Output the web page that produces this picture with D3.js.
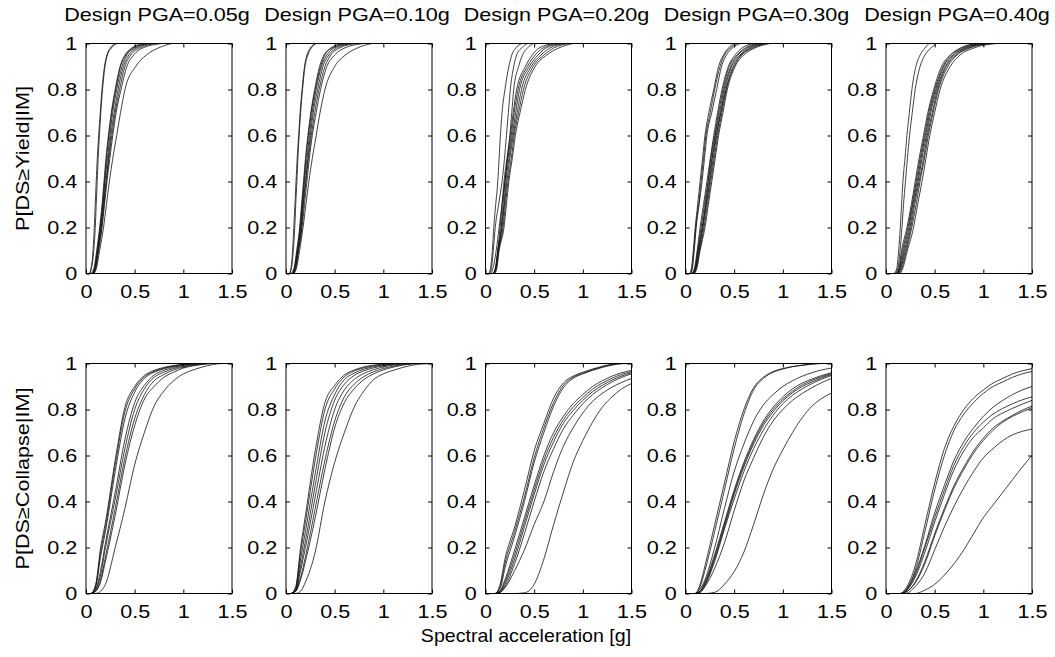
<!DOCTYPE html>
<html><head><meta charset="utf-8">
<script src="https://cdn.jsdelivr.net/npm/d3@7"></script>
<style>
body{margin:0;background:#fff}
text{font-family:"Liberation Sans",Arial,Helvetica,sans-serif;fill:#000}
</style>
</head><body>
<svg id="chart" width="1055" height="657"></svg>
<script>
// ---------------- data ----------------
const designPGA = ["0.05g", "0.10g", "0.20g", "0.30g", "0.40g"];
const rowLabels = ["P[DS\u2265Yield|IM]", "P[DS\u2265Collapse|IM]"];
const xLabel = "Spectral acceleration [g]";
const xTicks = [0, 0.5, 1, 1.5];
const yTicks = [0, 0.2, 0.4, 0.6, 0.8, 1];

// Yield curves: spectral acceleration [g] at which each curve reaches these probability levels
const pLevels = [0, 0.02, 0.1, 0.2, 0.3, 0.4, 0.5, 0.6, 0.7, 0.8, 0.9, 0.95, 0.98, 1];

const yield005 = [
  [0.03, 0.05, 0.072, 0.085, 0.095, 0.105, 0.116, 0.13, 0.147, 0.164, 0.19, 0.215, 0.25, 0.30],
  [0.035, 0.055, 0.08, 0.095, 0.105, 0.115, 0.125, 0.138, 0.152, 0.17, 0.195, 0.22, 0.26, 0.32],
  [0.05, 0.08, 0.11, 0.14, 0.165, 0.185, 0.205, 0.23, 0.26, 0.30, 0.35, 0.40, 0.47, 0.58],
  [0.055, 0.085, 0.115, 0.145, 0.17, 0.19, 0.21, 0.235, 0.265, 0.305, 0.355, 0.41, 0.48, 0.62],
  [0.06, 0.09, 0.12, 0.15, 0.175, 0.195, 0.22, 0.245, 0.275, 0.315, 0.37, 0.42, 0.50, 0.65],
  [0.06, 0.09, 0.12, 0.155, 0.18, 0.205, 0.23, 0.255, 0.29, 0.33, 0.385, 0.44, 0.52, 0.68],
  [0.065, 0.095, 0.125, 0.16, 0.185, 0.21, 0.235, 0.265, 0.30, 0.345, 0.40, 0.46, 0.55, 0.72],
  [0.07, 0.10, 0.13, 0.165, 0.19, 0.215, 0.245, 0.275, 0.31, 0.36, 0.42, 0.49, 0.58, 0.78],
  [0.075, 0.105, 0.14, 0.18, 0.21, 0.24, 0.275, 0.315, 0.355, 0.40, 0.51, 0.62, 0.74, 0.88]
];
const yield010 = [
  [0.03, 0.05, 0.068, 0.08, 0.092, 0.103, 0.115, 0.13, 0.145, 0.165, 0.19, 0.215, 0.25, 0.30],
  [0.035, 0.055, 0.075, 0.09, 0.10, 0.112, 0.122, 0.135, 0.15, 0.17, 0.195, 0.225, 0.26, 0.31],
  [0.05, 0.08, 0.11, 0.14, 0.16, 0.18, 0.20, 0.225, 0.255, 0.295, 0.345, 0.39, 0.46, 0.58],
  [0.055, 0.085, 0.115, 0.145, 0.165, 0.185, 0.205, 0.23, 0.26, 0.30, 0.355, 0.40, 0.47, 0.62],
  [0.06, 0.09, 0.12, 0.15, 0.17, 0.19, 0.215, 0.24, 0.27, 0.31, 0.365, 0.42, 0.49, 0.65],
  [0.06, 0.09, 0.12, 0.155, 0.175, 0.20, 0.225, 0.25, 0.28, 0.325, 0.38, 0.44, 0.52, 0.68],
  [0.065, 0.095, 0.125, 0.16, 0.18, 0.205, 0.23, 0.26, 0.295, 0.34, 0.40, 0.46, 0.55, 0.72],
  [0.07, 0.10, 0.13, 0.165, 0.19, 0.215, 0.24, 0.27, 0.31, 0.355, 0.42, 0.50, 0.60, 0.80],
  [0.075, 0.105, 0.14, 0.175, 0.205, 0.235, 0.27, 0.31, 0.35, 0.40, 0.50, 0.61, 0.73, 0.88]
];
const yield020 = [
  [0.03, 0.05, 0.07, 0.085, 0.105, 0.126, 0.14, 0.153, 0.17, 0.20, 0.24, 0.27, 0.31, 0.375],
  [0.04, 0.06, 0.08, 0.10, 0.135, 0.17, 0.195, 0.215, 0.235, 0.255, 0.29, 0.32, 0.37, 0.43],
  [0.05, 0.075, 0.11, 0.14, 0.17, 0.20, 0.225, 0.25, 0.27, 0.29, 0.34, 0.38, 0.43, 0.49],
  [0.07, 0.10, 0.125, 0.15, 0.17, 0.19, 0.22, 0.255, 0.285, 0.32, 0.41, 0.48, 0.55, 0.70],
  [0.075, 0.10, 0.127, 0.16, 0.18, 0.20, 0.23, 0.265, 0.295, 0.335, 0.43, 0.51, 0.59, 0.74],
  [0.08, 0.105, 0.13, 0.165, 0.19, 0.21, 0.24, 0.275, 0.31, 0.35, 0.45, 0.54, 0.62, 0.78],
  [0.08, 0.105, 0.132, 0.17, 0.195, 0.22, 0.25, 0.285, 0.325, 0.37, 0.47, 0.57, 0.66, 0.82],
  [0.085, 0.11, 0.135, 0.18, 0.205, 0.23, 0.265, 0.295, 0.34, 0.39, 0.49, 0.60, 0.70, 0.86],
  [0.09, 0.115, 0.14, 0.19, 0.215, 0.24, 0.275, 0.307, 0.355, 0.41, 0.51, 0.63, 0.75, 0.90]
];
const yield030 = [
  [0.04, 0.06, 0.08, 0.10, 0.125, 0.15, 0.175, 0.20, 0.24, 0.29, 0.34, 0.39, 0.44, 0.50],
  [0.045, 0.065, 0.085, 0.105, 0.135, 0.16, 0.185, 0.21, 0.255, 0.30, 0.355, 0.40, 0.46, 0.53],
  [0.05, 0.07, 0.09, 0.11, 0.14, 0.17, 0.195, 0.22, 0.27, 0.32, 0.37, 0.42, 0.48, 0.56],
  [0.06, 0.09, 0.12, 0.15, 0.185, 0.22, 0.255, 0.29, 0.33, 0.375, 0.44, 0.51, 0.58, 0.70],
  [0.065, 0.095, 0.125, 0.16, 0.195, 0.23, 0.26, 0.30, 0.34, 0.385, 0.45, 0.53, 0.61, 0.74],
  [0.07, 0.10, 0.13, 0.17, 0.205, 0.235, 0.27, 0.305, 0.35, 0.395, 0.465, 0.54, 0.63, 0.77],
  [0.07, 0.10, 0.135, 0.175, 0.21, 0.245, 0.275, 0.315, 0.36, 0.405, 0.475, 0.56, 0.65, 0.80],
  [0.075, 0.105, 0.14, 0.18, 0.215, 0.25, 0.285, 0.32, 0.365, 0.415, 0.49, 0.57, 0.67, 0.82],
  [0.08, 0.11, 0.145, 0.19, 0.225, 0.26, 0.295, 0.33, 0.375, 0.42, 0.50, 0.58, 0.69, 0.85],
  [0.085, 0.115, 0.15, 0.20, 0.235, 0.27, 0.305, 0.34, 0.385, 0.43, 0.51, 0.60, 0.71, 0.87]
];
const yield040 = [
  [0.08, 0.11, 0.13, 0.147, 0.16, 0.174, 0.195, 0.215, 0.24, 0.266, 0.307, 0.35, 0.40, 0.44],
  [0.09, 0.12, 0.145, 0.164, 0.18, 0.20, 0.22, 0.242, 0.27, 0.30, 0.35, 0.40, 0.46, 0.52],
  [0.10, 0.13, 0.16, 0.215, 0.26, 0.30, 0.34, 0.385, 0.43, 0.49, 0.57, 0.66, 0.76, 0.93],
  [0.105, 0.135, 0.17, 0.225, 0.27, 0.31, 0.35, 0.395, 0.44, 0.50, 0.585, 0.67, 0.78, 0.96],
  [0.11, 0.14, 0.18, 0.235, 0.275, 0.32, 0.36, 0.405, 0.45, 0.51, 0.595, 0.69, 0.80, 0.99],
  [0.115, 0.145, 0.19, 0.245, 0.285, 0.33, 0.37, 0.415, 0.46, 0.52, 0.61, 0.70, 0.82, 1.02],
  [0.12, 0.15, 0.20, 0.255, 0.295, 0.34, 0.385, 0.425, 0.475, 0.53, 0.62, 0.72, 0.84, 1.05],
  [0.13, 0.16, 0.21, 0.265, 0.31, 0.35, 0.395, 0.435, 0.485, 0.54, 0.635, 0.73, 0.86, 1.08],
  [0.14, 0.17, 0.22, 0.283, 0.325, 0.37, 0.41, 0.45, 0.50, 0.556, 0.66, 0.76, 0.90, 1.14]
];

// Collapse curves: probability at each of these spectral accelerations [g]
const saGrid = [0, 0.05, 0.1, 0.15, 0.2, 0.3, 0.4, 0.5, 0.6, 0.7, 0.8, 0.9, 1.0, 1.1, 1.2, 1.3, 1.4, 1.5];

const collapse005 = [
  [0, 0, 0.04, 0.2, 0.31, 0.58, 0.81, 0.9, 0.948, 0.97, 0.983, 0.991, 0.997, 1, 1, 1, 1, 1],
  [0, 0, 0.035, 0.18, 0.29, 0.56, 0.79, 0.89, 0.942, 0.966, 0.98, 0.989, 0.996, 0.999, 1, 1, 1, 1],
  [0, 0, 0.03, 0.16, 0.27, 0.53, 0.76, 0.875, 0.935, 0.962, 0.977, 0.987, 0.994, 0.998, 1, 1, 1, 1],
  [0, 0, 0.02, 0.1, 0.22, 0.44, 0.67, 0.83, 0.905, 0.95, 0.97, 0.983, 0.992, 0.998, 1, 1, 1, 1],
  [0, 0, 0.015, 0.08, 0.2, 0.41, 0.63, 0.8, 0.89, 0.94, 0.962, 0.978, 0.988, 0.995, 1, 1, 1, 1],
  [0, 0, 0.01, 0.06, 0.16, 0.37, 0.59, 0.76, 0.865, 0.925, 0.952, 0.972, 0.984, 0.992, 0.997, 1, 1, 1],
  [0, 0, 0.01, 0.05, 0.14, 0.34, 0.56, 0.73, 0.845, 0.9, 0.94, 0.962, 0.98, 0.99, 0.996, 1, 1, 1],
  [0, 0, 0, 0.01, 0.04, 0.2, 0.37, 0.56, 0.7, 0.815, 0.88, 0.925, 0.955, 0.972, 0.985, 0.995, 1, 1]
];
const collapse010 = [
  [0, 0, 0.03, 0.2, 0.34, 0.62, 0.83, 0.905, 0.95, 0.972, 0.985, 0.993, 0.998, 1, 1, 1, 1, 1],
  [0, 0, 0.025, 0.18, 0.31, 0.58, 0.8, 0.89, 0.942, 0.967, 0.981, 0.99, 0.996, 0.999, 1, 1, 1, 1],
  [0, 0, 0.02, 0.15, 0.27, 0.52, 0.75, 0.865, 0.93, 0.958, 0.975, 0.986, 0.993, 0.998, 1, 1, 1, 1],
  [0, 0, 0.015, 0.12, 0.23, 0.47, 0.7, 0.84, 0.91, 0.948, 0.968, 0.981, 0.99, 0.996, 1, 1, 1, 1],
  [0, 0, 0.01, 0.1, 0.2, 0.42, 0.64, 0.8, 0.885, 0.93, 0.957, 0.973, 0.985, 0.993, 0.998, 1, 1, 1],
  [0, 0, 0.01, 0.07, 0.16, 0.37, 0.58, 0.75, 0.855, 0.91, 0.943, 0.964, 0.978, 0.988, 0.995, 1, 1, 1],
  [0, 0, 0.01, 0.06, 0.14, 0.33, 0.54, 0.72, 0.83, 0.89, 0.93, 0.955, 0.972, 0.984, 0.993, 0.998, 1, 1],
  [0, 0, 0, 0.01, 0.05, 0.18, 0.4, 0.57, 0.7, 0.81, 0.88, 0.93, 0.955, 0.97, 0.983, 0.993, 0.998, 1]
];
const collapse020 = [
  [0, 0, 0, 0.04, 0.15, 0.29, 0.45, 0.62, 0.74, 0.85, 0.915, 0.945, 0.962, 0.976, 0.988, 0.997, 1, 1],
  [0, 0, 0, 0.03, 0.13, 0.27, 0.42, 0.59, 0.72, 0.83, 0.905, 0.94, 0.958, 0.973, 0.985, 0.995, 1, 1],
  [0, 0, 0, 0.02, 0.11, 0.25, 0.4, 0.57, 0.7, 0.815, 0.895, 0.935, 0.955, 0.97, 0.983, 0.993, 0.999, 1],
  [0, 0, 0, 0.01, 0.06, 0.19, 0.33, 0.47, 0.6, 0.7, 0.77, 0.825, 0.865, 0.9, 0.925, 0.945, 0.96, 0.97],
  [0, 0, 0, 0.01, 0.05, 0.17, 0.31, 0.45, 0.58, 0.68, 0.755, 0.81, 0.852, 0.888, 0.915, 0.936, 0.953, 0.965],
  [0, 0, 0, 0.005, 0.04, 0.15, 0.29, 0.43, 0.56, 0.66, 0.74, 0.795, 0.84, 0.877, 0.905, 0.928, 0.946, 0.96],
  [0, 0, 0, 0.005, 0.03, 0.13, 0.26, 0.4, 0.53, 0.63, 0.715, 0.775, 0.825, 0.865, 0.895, 0.92, 0.94, 0.955],
  [0, 0, 0, 0.005, 0.025, 0.1, 0.19, 0.3, 0.4, 0.53, 0.64, 0.72, 0.785, 0.835, 0.87, 0.897, 0.918, 0.935],
  [0, 0, 0, 0, 0, 0, 0.003, 0.04, 0.15, 0.3, 0.44, 0.57, 0.665, 0.745, 0.81, 0.855, 0.89, 0.913]
];
const collapse030 = [
  [0, 0, 0, 0.04, 0.12, 0.3, 0.48, 0.66, 0.8, 0.895, 0.94, 0.965, 0.978, 0.987, 0.993, 0.998, 1, 1],
  [0, 0, 0, 0.03, 0.1, 0.27, 0.45, 0.63, 0.78, 0.885, 0.935, 0.962, 0.976, 0.986, 0.992, 0.997, 1, 1],
  [0, 0, 0, 0.02, 0.06, 0.2, 0.37, 0.53, 0.65, 0.75, 0.82, 0.865, 0.9, 0.925, 0.945, 0.96, 0.972, 0.98],
  [0, 0, 0, 0.01, 0.05, 0.17, 0.31, 0.45, 0.57, 0.67, 0.75, 0.81, 0.855, 0.89, 0.915, 0.933, 0.948, 0.96],
  [0, 0, 0, 0.01, 0.045, 0.16, 0.3, 0.44, 0.56, 0.66, 0.74, 0.8, 0.845, 0.88, 0.907, 0.927, 0.943, 0.956],
  [0, 0, 0, 0.01, 0.04, 0.15, 0.29, 0.43, 0.55, 0.65, 0.73, 0.79, 0.838, 0.873, 0.9, 0.92, 0.938, 0.952],
  [0, 0, 0, 0.005, 0.035, 0.14, 0.28, 0.41, 0.53, 0.63, 0.71, 0.775, 0.825, 0.862, 0.89, 0.913, 0.932, 0.948],
  [0, 0, 0, 0.005, 0.03, 0.11, 0.22, 0.36, 0.49, 0.59, 0.68, 0.75, 0.8, 0.84, 0.87, 0.895, 0.917, 0.935],
  [0, 0, 0, 0, 0, 0.005, 0.04, 0.095, 0.18, 0.3, 0.43, 0.54, 0.625, 0.7, 0.765, 0.815, 0.848, 0.872]
];
const collapse040 = [
  [0, 0, 0, 0, 0.02, 0.12, 0.3, 0.48, 0.63, 0.73, 0.8, 0.85, 0.885, 0.915, 0.935, 0.955, 0.968, 0.978],
  [0, 0, 0, 0, 0.015, 0.1, 0.27, 0.45, 0.6, 0.71, 0.78, 0.83, 0.87, 0.9, 0.92, 0.94, 0.955, 0.965],
  [0, 0, 0, 0, 0.01, 0.09, 0.21, 0.35, 0.47, 0.58, 0.66, 0.72, 0.77, 0.81, 0.84, 0.865, 0.885, 0.9],
  [0, 0, 0, 0, 0.01, 0.08, 0.2, 0.33, 0.45, 0.56, 0.64, 0.7, 0.745, 0.78, 0.805, 0.825, 0.842, 0.855],
  [0, 0, 0, 0, 0.01, 0.07, 0.18, 0.31, 0.43, 0.54, 0.62, 0.68, 0.72, 0.76, 0.785, 0.805, 0.823, 0.84],
  [0, 0, 0, 0, 0.005, 0.05, 0.14, 0.26, 0.37, 0.47, 0.55, 0.62, 0.675, 0.72, 0.75, 0.775, 0.797, 0.815],
  [0, 0, 0, 0, 0.005, 0.045, 0.13, 0.25, 0.36, 0.46, 0.54, 0.61, 0.665, 0.71, 0.745, 0.77, 0.79, 0.808],
  [0, 0, 0, 0, 0, 0.03, 0.09, 0.19, 0.29, 0.38, 0.46, 0.53, 0.59, 0.63, 0.665, 0.69, 0.705, 0.715],
  [0, 0, 0, 0, 0, 0, 0.015, 0.04, 0.08, 0.13, 0.19, 0.26, 0.33, 0.385, 0.44, 0.495, 0.55, 0.6]
];

const yieldPanels = [yield005, yield010, yield020, yield030, yield040];
const collapsePanels = [collapse005, collapse010, collapse020, collapse030, collapse040];

// ---------------- layout ----------------
const panelLefts = [86, 286, 485.5, 685.5, 886];
const rowTops = [43.5, 363.5];
const W = 146, H = 230;
const FS = 18, SX = 1.2;

const svg = d3.select("#chart");
const x = d3.scaleLinear().domain([0, 1.5]).range([0, W]);
const y = d3.scaleLinear().domain([0, 1]).range([H, 0]);
const line = d3.line()
  .x(d => x(d[0])).y(d => y(d[1]))
  .curve(d3.curveMonotoneX);

// table of point lists built from the arrays above
const rows = [
  yieldPanels.map(curves => curves.map(sa =>
    [[x.domain()[0], pLevels[0]]].concat(sa.map((v, i) => [v, pLevels[i]])))),
  collapsePanels.map(curves => curves.map(p => saGrid.map((s, i) => [s, p[i]])))
];

function stretchText(sel, sx) {
  const k = sx || SX;
  sel.attr("font-size", FS).each(function () {
    const t = d3.select(this);
    const prev = t.attr("transform") || "";
    t.attr("transform", prev + " scale(" + k + ",1)");
  });
}

rows.forEach((row, r) => {
  row.forEach((curves, c) => {
    const g = svg.append("g")
      .attr("transform", `translate(${panelLefts[c]},${rowTops[r]})`);
    const clipId = `clip-${r}-${c}`;
    g.append("clipPath").attr("id", clipId)
      .append("rect").attr("width", W).attr("height", H);

    g.append("g").attr("clip-path", `url(#${clipId})`)
      .selectAll("path").data(curves).join("path")
      .attr("fill", "none")
      .attr("stroke", "#111")
      .attr("stroke-width", 0.8)
      .attr("d", line);

    g.append("g").attr("transform", `translate(0,${H})`)
      .call(d3.axisBottom(x).tickValues(xTicks).tickSizeInner(-4).tickSizeOuter(0)
        .tickPadding(12).tickFormat(d => String(d)));
    g.append("g")
      .call(d3.axisLeft(y).tickValues(yTicks).tickSizeInner(-4).tickSizeOuter(0)
        .tickPadding(7.3).tickFormat(d => String(d)));
    g.append("g")
      .call(d3.axisTop(x).tickValues(xTicks).tickSizeInner(-4).tickSizeOuter(0).tickFormat(""));
    g.append("g").attr("transform", `translate(${W},0)`)
      .call(d3.axisRight(y).tickValues(yTicks).tickSizeInner(-4).tickSizeOuter(0).tickFormat(""));
    g.selectAll(".domain").remove();
    g.selectAll(".tick line").attr("stroke", "#000").attr("stroke-width", 1);
    g.selectAll(".tick text").attr("font-family", null).call(stretchText);

    g.append("rect").attr("width", W).attr("height", H)
      .attr("fill", "none").attr("stroke", "#000").attr("stroke-width", 1);

    if (r === 0) {
      svg.append("text")
        .attr("text-anchor", "middle")
        .attr("transform", `translate(${panelLefts[c] + W / 2 - 2},21)`)
        .text("Design PGA=" + designPGA[c])
        .call(stretchText);
    }
  });
  svg.append("text")
    .attr("text-anchor", "middle")
    .attr("transform", `translate(29,${rowTops[r] + H / 2}) rotate(-90)`)
    .text(rowLabels[r])
    .call(stretchText);
});

svg.append("text")
  .attr("text-anchor", "middle")
  .attr("transform", "translate(526,642)")
  .text(xLabel)
  .call(stretchText, 1.09);
</script>
</body></html>
